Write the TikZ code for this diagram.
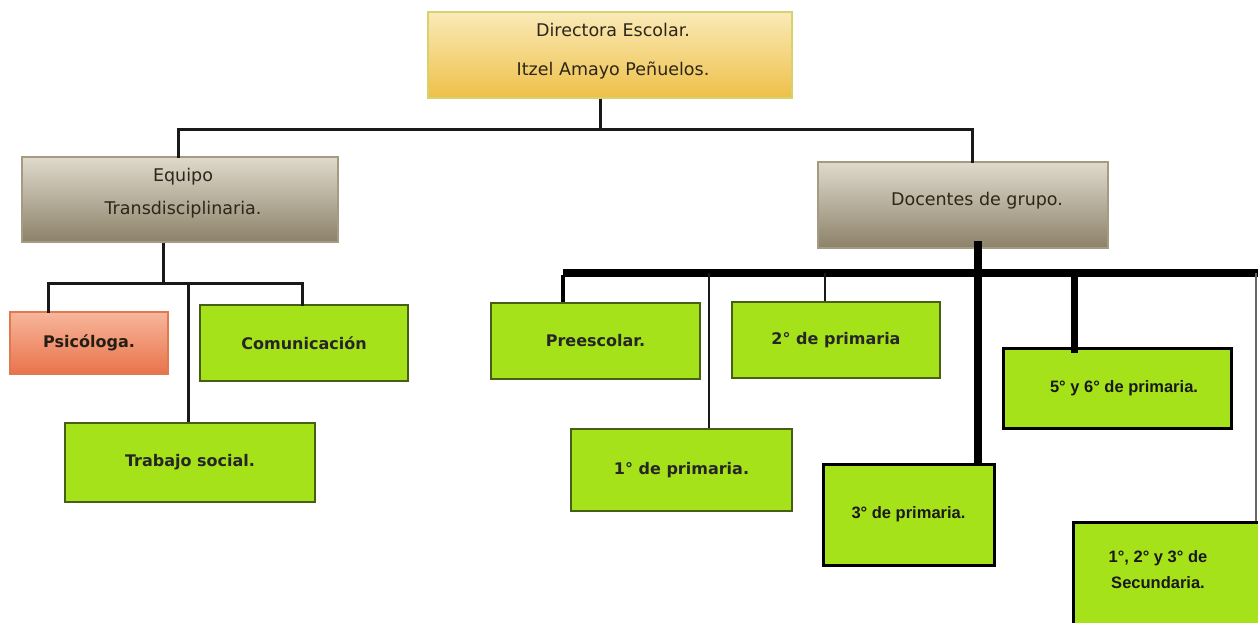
\documentclass[tikz,border=0pt]{standalone}
\usepackage{fontspec}
\setmainfont{DejaVu Sans}
\newfontfamily\arialf{Liberation Sans}
\definecolor{lime}{RGB}{166,226,26}
\definecolor{limeborder}{RGB}{70,95,20}
\definecolor{dirtop}{RGB}{250,234,184}
\definecolor{dirbot}{RGB}{238,192,72}
\definecolor{dirborder}{RGB}{215,210,110}
\definecolor{eqtop}{RGB}{224,218,205}
\definecolor{eqbot}{RGB}{140,130,105}
\definecolor{eqborder}{RGB}{165,155,130}
\definecolor{psitop}{RGB}{247,182,155}
\definecolor{psibot}{RGB}{233,115,75}
\definecolor{psiborder}{RGB}{225,120,80}
\definecolor{uptext}{RGB}{45,38,25}
\tikzset{
  goldbox/.style={draw=dirborder, line width=1.5pt, top color=dirtop, bottom color=dirbot, inner sep=0pt},
  graybox/.style={draw=eqborder, line width=1.5pt, top color=eqtop, bottom color=eqbot, inner sep=0pt},
  salmonbox/.style={draw=psiborder, line width=1.5pt, top color=psitop, bottom color=psibot, inner sep=0pt,
    font=\fontsize{16}{19}\selectfont\bfseries, text=uptext!80!black},
  greenbox/.style={draw=limeborder, line width=2pt, fill=lime, inner sep=0pt,
    font=\fontsize{16}{19}\selectfont\bfseries, text=black!85},
  gradebox/.style={draw=black, line width=3pt, fill=lime, inner sep=0pt,
    font=\arialf\fontsize{16.5}{19}\selectfont\bfseries, text=black!90},
  uplabel/.style={align=center, text=uptext, inner sep=0pt},
  conn/.style={draw=black!90, line width=3pt},
  thinconn/.style={draw=black!90, line width=2pt},
  thickconn/.style={draw=black, line width=8pt},
}
\begin{document}
\begin{tikzpicture}[x=1pt,y=-1pt]
\path[use as bounding box] (0,0) rectangle (1258,623);
\clip (0,0) rectangle (1258,623);
\fill[white] (0,0) rectangle (1258,623);

% top level
\node[goldbox, minimum width=364, minimum height=86] (dir) at (610,55) {};
\node[uplabel, font=\fontsize{17.5}{39}\selectfont] (dirtext) at (613,51) {Directora Escolar.\\Itzel Amayo Peñuelos.};

\node[graybox, minimum width=316, minimum height=85] (eq) at (180,199.5) {};
\node[uplabel, font=\fontsize{17.5}{33}\selectfont] (eqtext) at (183,193) {Equipo\\Transdisciplinaria.};

\node[graybox, minimum width=290, minimum height=86] (doc) at (963,205) {};
\node[uplabel, font=\fontsize{17.5}{20}\selectfont] (doctext) at (977,201) {Docentes de grupo.};

% top bus
\coordinate (tb) at (600,130);
\coordinate (tbl) at (178,130);
\coordinate (tbr) at (972,130);
\draw[conn] ([xshift=-10pt]dir.south) -- (tb);
\draw[conn, line cap=rect] (eq.north -| tbl) -- (tbl) -- (tbr) -- (doc.north -| tbr);

% left team
\node[salmonbox, minimum width=158, minimum height=62] (psi) at (89,343) {Psicóloga.};
\node[greenbox, minimum width=208, minimum height=76] (com) at (304,343) {Comunicación};
\node[greenbox, minimum width=250, minimum height=79] (tra) at (190,462.5) {Trabajo social.};
\coordinate (lb) at (163,283);
\coordinate (lbl) at (48,283);
\coordinate (lbr) at (302,283);
\coordinate (lbt) at (188,283);
\draw[conn] (eq.south -| lb) -- (lb);
\draw[conn, line cap=rect] (psi.north -| lbl) -- (lbl) -- (lbr) -- (com.north -| lbr);
\draw[conn] (lbt) -- (tra.north -| lbt);

% docentes
\node[greenbox, minimum width=209, minimum height=76] (pre) at (595.5,341) {Preescolar.};
\node[greenbox, minimum width=208, minimum height=76] (sec2) at (836,340) {2° de primaria};
\node[greenbox, minimum width=221, minimum height=82] (pri1) at (681.5,470) {1° de primaria.};
\node[gradebox, minimum width=228, minimum height=80] (p56) at (1117,388) {\hspace*{14pt}5° y 6° de primaria.};
\node[gradebox, minimum width=171, minimum height=101] (p3) at (908.5,514.5) {3° de primaria.};
\node[gradebox, minimum width=202, minimum height=118] (secu) at (1174,581) {};
\node[align=center, inner sep=0pt, font=\arialf\fontsize{16.5}{26}\selectfont\bfseries, text=black!90] (secutext) at (1158,570) {1°, 2° y 3° de\\Secundaria.};

\coordinate (db) at (563,273);
\coordinate (dbe) at (1258,273);
\coordinate (dbr) at (1256,273);
\coordinate (d1) at (709,273);
\coordinate (d2) at (825,273);
\coordinate (d3) at (978,273);
\coordinate (d56) at (1074,273);

\draw[thickconn] ([xshift=15pt,yshift=8pt]doc.south) -- (p3.north -| d3);
\draw[thickconn] (db) -- (dbe);
\draw[draw=black, line width=4pt] ([yshift=-2pt]db) -- (pre.north -| db);
\draw[thinconn] (d1) -- (pri1.north -| d1);
\draw[thinconn] (d2) -- (sec2.north -| d2);
\draw[draw=black, line width=7pt] (d56) -- ([yshift=-6pt]p56.north -| d56);
\draw[draw=black!60, line width=1.5pt] (dbr) -- (secu.north -| dbr);
\end{tikzpicture}
\end{document}
